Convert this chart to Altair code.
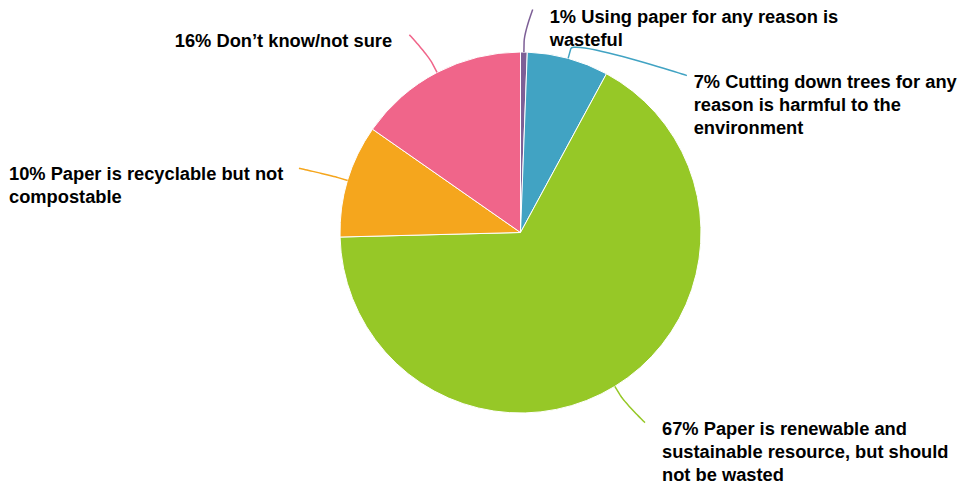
import math
import altair as alt
import pandas as pd

# ---- data ----
categories = [
    "Using paper for any reason is wasteful",
    "Cutting down trees for any reason is harmful to the environment",
    "Paper is renewable and sustainable resource, but should not be wasted",
    "Paper is recyclable but not compostable",
    "Don’t know/not sure",
]
values = [0.6, 7.3, 66.7, 10.1, 15.3]
pct_labels = ["1%", "7%", "67%", "10%", "16%"]
label_lines = [
    ["Using paper for any reason is", "wasteful"],
    ["Cutting down trees for any", "reason is harmful to the", "environment"],
    ["Paper is renewable and", "sustainable resource, but should", "not be wasted"],
    ["Paper is recyclable but not", "compostable"],
    ["Don’t know/not sure"],
]
colors = ["#7d5f96", "#41a3c3", "#96c827", "#f5a61d", "#f0658a"]

# ---- layout constants ----
W, H = 950, 467
CX, CY = 512.5, 224.5          # pie centre inside the plot area
R = 180.5                      # pie radius
R_LAB = 223                    # radius used to place label anchors
X_SHIFT = 8                    # horizontal gap of anchor outside that circle
BREAK = 10
FONT = 18.3
LINE_H = 23
PAD = 17
BASE_OFF = 12

# Arial/Liberation Sans Bold advance widths (per 1000 em)
_w = {' ': 278, '%': 889, '’': 278, ',': 278, '/': 278, '.': 278}
for ch in '0123456789':
    _w[ch] = 556
_w.update(dict(zip('abcdefghijklmnopqrstuvwxyz',
                   [556, 611, 556, 611, 556, 333, 611, 611, 278, 278, 556, 278, 889,
                    611, 611, 611, 611, 389, 556, 333, 611, 556, 778, 556, 556, 500])))
_w.update(dict(zip('ABCDEFGHIJKLMNOPQRSTUVWXYZ',
                   [722, 722, 722, 722, 667, 611, 778, 722, 278, 556, 722, 611, 833,
                    722, 778, 667, 778, 722, 667, 611, 722, 667, 944, 667, 667, 611])))


def text_width(s):
    return sum(_w.get(c, 556) for c in s) * FONT / 1000.0


total = sum(values)
full_lines = []
for p, lines in zip(pct_labels, label_lines):
    ls = list(lines)
    ls[0] = p + " " + ls[0]
    full_lines.append(ls)

# mid angles (clockwise from 12 o'clock)
mids = []
acc = 0.0
for v in values:
    mids.append((acc + v / 2) / total * 2 * math.pi)
    acc += v

# natural label heights (screen-down offset from centre), then push apart
dys = [-R_LAB * math.cos(a) for a in mids]
sides = [1 if math.sin(a) >= 0 else -1 for a in mids]
for side in (1, -1):
    idx = sorted([i for i in range(len(values)) if sides[i] == side], key=lambda i: dys[i])
    for k in range(1, len(idx)):
        prev, cur = idx[k - 1], idx[k]
        need = dys[prev] + len(full_lines[prev]) * LINE_H + 20
        if dys[cur] < need:
            dys[cur] = need
ends = []
for i in range(len(values)):
    dx = sides[i] * (math.sqrt(max(R_LAB ** 2 - dys[i] ** 2, 0)) + X_SHIFT)
    ends.append((dx, dys[i]))

# connectors (soft curves)
conn_rows = []
for i, a in enumerate(mids):
    p0 = ends[i]
    p1 = p0
    p2 = ((R + 2 * BREAK) * math.sin(a), -(R + 2 * BREAK) * math.cos(a))
    p3 = ((R + BREAK) * math.sin(a), -(R + BREAK) * math.cos(a))
    pts = []
    n = 24
    for k in range(n + 1):
        t = k / n
        mt = 1 - t
        x = mt**3 * p0[0] + 3 * mt**2 * t * p1[0] + 3 * mt * t**2 * p2[0] + t**3 * p3[0]
        y = mt**3 * p0[1] + 3 * mt**2 * t * p1[1] + 3 * mt * t**2 * p2[1] + t**3 * p3[1]
        pts.append((x, y))
    pts.append((R * math.sin(a), -R * math.cos(a)))
    for k, (x, y) in enumerate(pts):
        conn_rows.append({"category": categories[i], "seq": k, "x": x, "y": -y})
conn_df = pd.DataFrame(conn_rows)

# labels (kept inside the drawing area)
min_base = -CY + 0.82 * FONT   # first baseline low enough for the glyphs to fit
text_rows = []
for i in range(len(values)):
    ex, ey = ends[i]
    bw = max(text_width(s) for s in full_lines[i])
    if sides[i] > 0:
        tx = min(ex + PAD, (W - CX) - bw - 1)
    else:
        tx = max(ex - PAD - bw, -CX + 1)
    base = max(ey + BASE_OFF, min_base)
    text_rows.append({"category": categories[i], "x": tx, "y": -base,
                      "text": "\n".join(full_lines[i])})
text_df = pd.DataFrame(text_rows)

slice_df = pd.DataFrame({"category": categories, "value": values,
                         "order": list(range(len(values)))})

xs = alt.Scale(domain=[-CX, W - CX], nice=False, zero=False)
ys = alt.Scale(domain=[-(H - CY), CY], nice=False, zero=False)
color = alt.Color("category:N", scale=alt.Scale(domain=categories, range=colors), legend=None)

pie = alt.Chart(slice_df).mark_arc(radius=R, stroke="white", strokeWidth=1).encode(
    theta=alt.Theta("value:Q", stack=True),
    order=alt.Order("order:Q"),
    color=color,
    x=alt.XDatum(0, type="quantitative", scale=xs, axis=None),
    y=alt.YDatum(0, type="quantitative", scale=ys, axis=None),
)

lines = alt.Chart(conn_df).mark_line(strokeWidth=1.5).encode(
    x=alt.X("x:Q", scale=xs, axis=None),
    y=alt.Y("y:Q", scale=ys, axis=None),
    color=color,
    order=alt.Order("seq:Q"),
)

labels = alt.Chart(text_df).mark_text(
    align="left", baseline="alphabetic", fontSize=FONT, fontWeight="bold",
    font="Liberation Sans, Arial, Helvetica, sans-serif", lineBreak="\n",
    lineHeight=LINE_H, color="#000000",
).encode(
    x=alt.X("x:Q", scale=xs, axis=None),
    y=alt.Y("y:Q", scale=ys, axis=None),
    text="text:N",
)

chart = alt.layer(pie, lines, labels).properties(
    width=W, height=H, background="white",
    padding={"left": 0, "top": 0, "right": 0, "bottom": 10},
    autosize=alt.AutoSizeParams(type="none"),
).configure_view(stroke=None)

chart.save("out.html", embed_options={"renderer": "svg", "actions": False})
